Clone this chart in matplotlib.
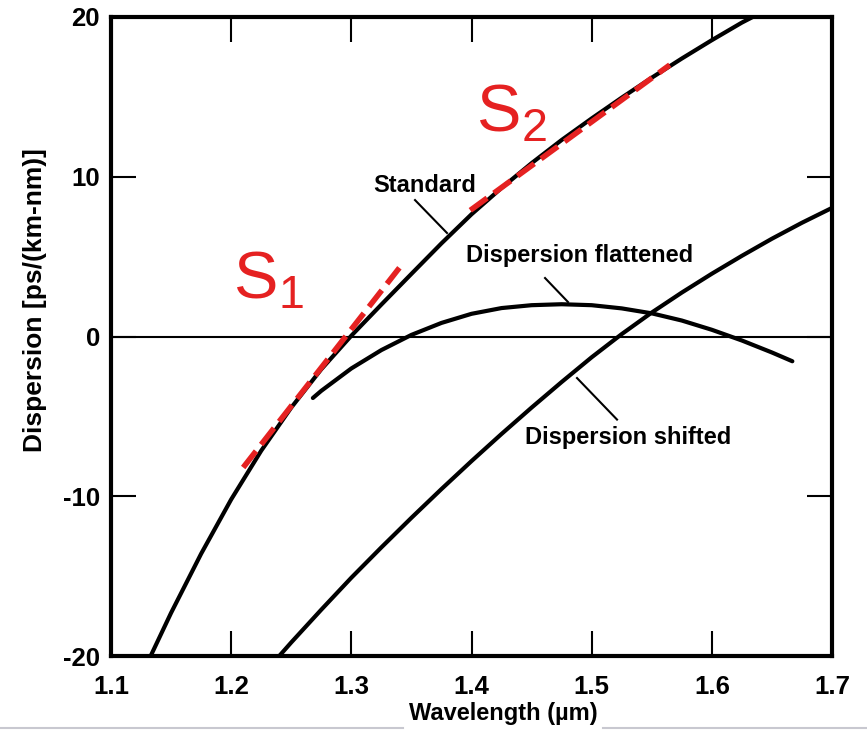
import matplotlib
matplotlib.use("Agg")
import matplotlib.pyplot as plt
from matplotlib.lines import Line2D

# ---- data ----
std_x = [1.133, 1.15, 1.175, 1.2, 1.225, 1.25, 1.275, 1.3, 1.325, 1.35, 1.375,
         1.4, 1.425, 1.45, 1.475, 1.5, 1.525, 1.55, 1.575, 1.6, 1.625, 1.634]
std_y = [-20.0, -17.3, -13.6, -10.2, -7.15, -4.45, -2.05, 0.05, 2.0, 3.92, 5.83,
         7.65, 9.3, 10.85, 12.3, 13.65, 14.95, 16.2, 17.4, 18.55, 19.65, 20.0]

shf_x = [1.24, 1.25, 1.275, 1.3, 1.325, 1.35, 1.375, 1.4, 1.425, 1.45, 1.475,
         1.5, 1.525, 1.55, 1.575, 1.6, 1.625, 1.65, 1.675, 1.7]
shf_y = [-20.0, -19.15, -17.1, -15.1, -13.2, -11.35, -9.55, -7.8, -6.1, -4.45, -2.85,
         -1.3, 0.15, 1.5, 2.75, 3.93, 5.05, 6.12, 7.12, 8.05]

flt_x = [1.268, 1.275, 1.3, 1.325, 1.35, 1.375, 1.4, 1.425, 1.45, 1.475, 1.5,
         1.525, 1.55, 1.575, 1.6, 1.625, 1.65, 1.667]
flt_y = [-3.85, -3.4, -2.0, -0.85, 0.1, 0.85, 1.42, 1.78, 1.96, 2.02, 1.96,
         1.76, 1.45, 1.0, 0.42, -0.25, -1.0, -1.55]

s1_x = [1.21, 1.34]
s1_y = [-8.2, 4.3]
s2_x = [1.399, 1.565]
s2_y = [7.9, 17.0]

x_ticks = [1.1, 1.2, 1.3, 1.4, 1.5, 1.6, 1.7]
y_ticks = [-20, -10, 0, 10, 20]

plt.rcParams['font.family'] = ['Liberation Sans', 'DejaVu Sans']
plt.rcParams['mathtext.fontset'] = 'custom'
plt.rcParams['mathtext.rm'] = 'Liberation Sans'

W, H = 867, 730
fig = plt.figure(figsize=(W / 100, H / 100), dpi=100)
ax = fig.add_axes([111 / W, 1 - 656 / H, (832 - 111) / W, (656 - 17) / H])

ax.set_xlim(1.1, 1.7)
ax.set_ylim(-20, 20)

ax.axhline(0, color='black', lw=1.5, zorder=1)

ax.plot(std_x, std_y, color='black', lw=3, solid_capstyle='butt',
        solid_joinstyle='round', zorder=2)
ax.plot(shf_x, shf_y, color='black', lw=3, solid_capstyle='butt',
        solid_joinstyle='round', zorder=2)
ax.plot(flt_x, flt_y, color='black', lw=3, solid_capstyle='round',
        solid_joinstyle='round', zorder=2)

red = '#e52121'
ax.plot(s1_x, s1_y, color=red, lw=4, linestyle=(0, (3.75, 1.5)),
        dash_capstyle='butt', zorder=3)
ax.plot(s2_x, s2_y, color=red, lw=4, linestyle=(0, (3.75, 1.5)),
        dash_capstyle='butt', zorder=3)

# pointer lines
ax.plot([1.353, 1.3796], [8.54, 6.48], color='black', lw=1.5, zorder=2)
ax.plot([1.4612, 1.4803], [3.66, 2.16], color='black', lw=1.5, zorder=2)
ax.plot([1.4878, 1.5211], [-2.6, -5.2], color='black', lw=1.5, zorder=2)

lab_kw = dict(fontsize=17, fontweight='bold', color='black')
ax.text(1.3613, 9.48, 'Standard', ha='center', va='center', **lab_kw)
ax.text(1.4903, 5.1, 'Dispersion flattened', ha='center', va='center', **lab_kw)
ax.text(1.530, -6.35, 'Dispersion shifted', ha='center', va='center', **lab_kw)

# S1 / S2 labels
ax.text(1.2015, 2.4, r'$\mathregular{S_1}$', color=red, fontsize=48,
        ha='left', va='baseline')
ax.text(1.404, 12.85, r'$\mathregular{S_2}$', color=red, fontsize=48,
        ha='left', va='baseline')

ax.set_xticks(x_ticks)
ax.set_xticklabels([f'{v:.1f}' for v in x_ticks])
ax.set_yticks(y_ticks)
ax.set_yticklabels([str(v) for v in y_ticks])
ax.tick_params(direction='in', length=18, width=1.5, top=True, right=True,
               labelsize=18.5)
ax.tick_params(axis='x', pad=14)
ax.tick_params(axis='y', pad=8)
for t in ax.get_xticklabels() + ax.get_yticklabels():
    t.set_fontweight('bold')

for s in ax.spines.values():
    s.set_linewidth(3)

ax.set_xlabel('Wavelength (µm)', fontsize=17, fontweight='bold')
ax.xaxis.set_label_coords((503 - 111) / 721, (656 - 702) / 639)
ax.set_ylabel('Dispersion [ps/(km-nm)]', fontsize=19, fontweight='bold')
ax.yaxis.set_label_coords((47 - 111) / 721, (656 - 300) / 639)

# faint scan border line at bottom
fig.add_artist(Line2D([0, 403 / W], [1 - 728 / H] * 2, color='#c8c8d0', lw=1.5))
fig.add_artist(Line2D([603 / W, 1], [1 - 728 / H] * 2, color='#c8c8d0', lw=1.5))

fig.savefig('out.png', dpi=100)
